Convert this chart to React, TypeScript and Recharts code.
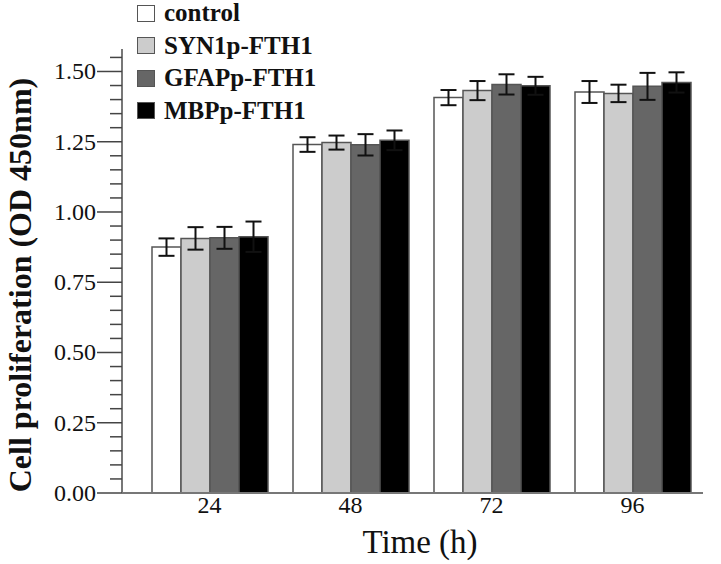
import { BarChart, Bar, XAxis, YAxis, ErrorBar, Label } from 'recharts';

// time points (h)
const categories = ['24', '48', '72', '96'];

// OD 450nm means and SD
const control = [0.875, 1.24, 1.407, 1.427];
const controlErr = [0.031, 0.026, 0.027, 0.039];
const syn1p = [0.906, 1.247, 1.432, 1.422];
const syn1pErr = [0.04, 0.025, 0.034, 0.031];
const gfap = [0.908, 1.239, 1.454, 1.447];
const gfapErr = [0.039, 0.038, 0.036, 0.048];
const mbp = [0.912, 1.255, 1.449, 1.461];
const mbpErr = [0.054, 0.035, 0.032, 0.036];

const yTicks = [
  0, 0.05, 0.1, 0.15, 0.2, 0.25, 0.3, 0.35, 0.4, 0.45, 0.5, 0.55, 0.6, 0.65, 0.7, 0.75,
  0.8, 0.85, 0.9, 0.95, 1.0, 1.05, 1.1, 1.15, 1.2, 1.25, 1.3, 1.35, 1.4, 1.45, 1.5, 1.55,
];

const series = [
  { key: 'control', err: 'controlErr', name: 'control', fill: '#ffffff' },
  { key: 'syn1p', err: 'syn1pErr', name: 'SYN1p-FTH1', fill: '#cccccc' },
  { key: 'gfap', err: 'gfapErr', name: 'GFAPp-FTH1', fill: '#666666' },
  { key: 'mbp', err: 'mbpErr', name: 'MBPp-FTH1', fill: '#000000' },
];

const data = categories.map((time, i) => ({
  time,
  control: control[i],
  controlErr: controlErr[i],
  syn1p: syn1p[i],
  syn1pErr: syn1pErr[i],
  gfap: gfap[i],
  gfapErr: gfapErr[i],
  mbp: mbp[i],
  mbpErr: mbpErr[i],
}));

const FONT = "'Liberation Serif', 'Times New Roman', serif";
const AXIS = '#777777';

const YTick = (props: any) => {
  const { x, y, payload } = props;
  const v = payload.value as number;
  const major = Math.round(v * 100) % 25 === 0;
  return (
    <g>
      <line x1={x - (major ? 25 : 12)} y1={y} x2={x} y2={y} stroke="#444" strokeWidth={1.5} />
      {major && (
        <text x={x - 26} y={y} dy={8} textAnchor="end" style={{ fontFamily: FONT, fontSize: 24, fill: '#111' }}>
          {v.toFixed(2)}
        </text>
      )}
    </g>
  );
};

const XTick = (props: any) => {
  const { x, y, payload } = props;
  return (
    <text x={x} y={y} dy={12} textAnchor="middle" style={{ fontFamily: FONT, fontSize: 24, fill: '#111' }}>
      {payload.value}
    </text>
  );
};

export default function App() {
  return (
    <div style={{ position: 'absolute', left: 0, top: 0, width: 721, height: 564, background: '#fff', fontFamily: FONT }}>
      <BarChart
        width={721}
        height={564}
        data={data}
        margin={{ top: 49, right: 18, left: 0, bottom: 0 }}
        barGap={0}
        barSize={29}
      >
        <XAxis
          dataKey="time"
          height={71}
          padding={{ left: 17, right: 0 }}
          stroke={AXIS}
          strokeWidth={2}
          tickLine={false}
          tick={<XTick />}
        >
          <Label
            content={() => (
              <text x={420} y={553} textAnchor="middle" style={{ fontFamily: FONT, fontSize: 33, fill: '#111' }}>
                Time (h)
              </text>
            )}
          />
        </XAxis>
        <YAxis
          width={122}
          domain={[0, 1.58]}
          ticks={yTicks}
          interval={0}
          stroke={AXIS}
          strokeWidth={2}
          tickLine={false}
          tickSize={0}
          tickMargin={0}
          tick={<YTick />}
        >
          <Label
            content={() => (
              <text
                x={31}
                y={285}
                transform="rotate(-90 31 285)"
                textAnchor="middle"
                style={{ fontFamily: FONT, fontWeight: 'bold', fontSize: 32, fill: '#111' }}
              >
                Cell proliferation (OD 450nm)
              </text>
            )}
          />
        </YAxis>
        {series.map((s) => (
          <Bar
            key={s.key}
            dataKey={s.key}
            name={s.name}
            fill={s.fill}
            stroke="#555"
            strokeWidth={1.5}
            isAnimationActive={false}
          >
            <ErrorBar dataKey={s.err} width={8} strokeWidth={2} stroke="#111" direction="y" />
          </Bar>
        ))}
      </BarChart>
      <div
        style={{
          position: 'absolute',
          left: 137,
          top: -3,
          fontFamily: FONT,
          fontWeight: 'bold',
          fontSize: 25,
          color: '#111',
        }}
      >
        {series.map((s) => (
          <div key={s.key} style={{ display: 'flex', alignItems: 'center', height: 32.5 }}>
            <span
              style={{
                display: 'inline-block',
                width: 16,
                height: 15,
                background: s.fill,
                border: '1.5px solid #555',
                marginRight: 9,
              }}
            />
            <span>{s.name}</span>
          </div>
        ))}
      </div>
    </div>
  );
}
